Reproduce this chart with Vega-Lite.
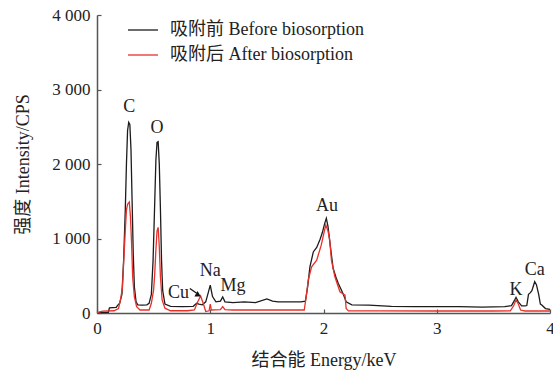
{
  "$schema": "https://vega.github.io/schema/vega-lite/v6.json",
  "width": 453,
  "height": 298,
  "autosize": {"type": "none"},
  "padding": {"left": 97, "top": 15, "right": 3, "bottom": 61},
  "background": "white",
  "config": {
    "view": {"stroke": null},
    "font": "Liberation Serif",
    "axis": {
      "grid": false,
      "domainColor": "#555555",
      "domainWidth": 1.5,
      "tickColor": "#555555",
      "tickWidth": 1.2,
      "tickSize": -4,
      "labelFont": "Liberation Serif",
      "labelFontSize": 17,
      "labelColor": "#222222",
      "titleFont": "Liberation Serif, Noto Sans CJK SC",
      "titleFontSize": 18,
      "titleFontWeight": "normal",
      "titleColor": "#222222"
    },
    "legend": {
      "orient": "none",
      "legendX": 30,
      "legendY": -1,
      "labelFont": "Liberation Serif, Noto Sans CJK SC",
      "labelFontSize": 18,
      "labelColor": "#222222",
      "labelLimit": 0,
      "symbolType": "stroke",
      "symbolSize": 900,
      "symbolStrokeWidth": 1.3,
      "labelOffset": 11,
      "rowPadding": 0,
      "padding": 0,
      "title": null
    }
  },
  "datasets": {
    "spec": [
      {"s":"吸附前 Before biosorption","e":0,"i":5},
      {"s":"吸附前 Before biosorption","e":0.1,"i":10},
      {"s":"吸附前 Before biosorption","e":0.11,"i":70},
      {"s":"吸附前 Before biosorption","e":0.17,"i":75},
      {"s":"吸附前 Before biosorption","e":0.18,"i":100},
      {"s":"吸附前 Before biosorption","e":0.2,"i":130},
      {"s":"吸附前 Before biosorption","e":0.22,"i":250},
      {"s":"吸附前 Before biosorption","e":0.235,"i":700},
      {"s":"吸附前 Before biosorption","e":0.25,"i":1400},
      {"s":"吸附前 Before biosorption","e":0.26,"i":2000},
      {"s":"吸附前 Before biosorption","e":0.27,"i":2450},
      {"s":"吸附前 Before biosorption","e":0.28,"i":2560},
      {"s":"吸附前 Before biosorption","e":0.29,"i":2530},
      {"s":"吸附前 Before biosorption","e":0.3,"i":2200},
      {"s":"吸附前 Before biosorption","e":0.31,"i":1500},
      {"s":"吸附前 Before biosorption","e":0.32,"i":800},
      {"s":"吸附前 Before biosorption","e":0.33,"i":350},
      {"s":"吸附前 Before biosorption","e":0.345,"i":150},
      {"s":"吸附前 Before biosorption","e":0.36,"i":110},
      {"s":"吸附前 Before biosorption","e":0.4,"i":105},
      {"s":"吸附前 Before biosorption","e":0.44,"i":110},
      {"s":"吸附前 Before biosorption","e":0.46,"i":130},
      {"s":"吸附前 Before biosorption","e":0.48,"i":250},
      {"s":"吸附前 Before biosorption","e":0.495,"i":700},
      {"s":"吸附前 Before biosorption","e":0.51,"i":1500},
      {"s":"吸附前 Before biosorption","e":0.52,"i":2050},
      {"s":"吸附前 Before biosorption","e":0.53,"i":2290},
      {"s":"吸附前 Before biosorption","e":0.54,"i":2300},
      {"s":"吸附前 Before biosorption","e":0.55,"i":2000},
      {"s":"吸附前 Before biosorption","e":0.56,"i":1400},
      {"s":"吸附前 Before biosorption","e":0.57,"i":700},
      {"s":"吸附前 Before biosorption","e":0.58,"i":300},
      {"s":"吸附前 Before biosorption","e":0.6,"i":120},
      {"s":"吸附前 Before biosorption","e":0.65,"i":90},
      {"s":"吸附前 Before biosorption","e":0.75,"i":85},
      {"s":"吸附前 Before biosorption","e":0.85,"i":90},
      {"s":"吸附前 Before biosorption","e":0.88,"i":130},
      {"s":"吸附前 Before biosorption","e":0.9,"i":120},
      {"s":"吸附前 Before biosorption","e":0.93,"i":110},
      {"s":"吸附前 Before biosorption","e":0.96,"i":150},
      {"s":"吸附前 Before biosorption","e":0.98,"i":260},
      {"s":"吸附前 Before biosorption","e":1.0,"i":375},
      {"s":"吸附前 Before biosorption","e":1.02,"i":220},
      {"s":"吸附前 Before biosorption","e":1.05,"i":150},
      {"s":"吸附前 Before biosorption","e":1.09,"i":160},
      {"s":"吸附前 Before biosorption","e":1.11,"i":215},
      {"s":"吸附前 Before biosorption","e":1.13,"i":150},
      {"s":"吸附前 Before biosorption","e":1.2,"i":140},
      {"s":"吸附前 Before biosorption","e":1.3,"i":150},
      {"s":"吸附前 Before biosorption","e":1.4,"i":140},
      {"s":"吸附前 Before biosorption","e":1.5,"i":190},
      {"s":"吸附前 Before biosorption","e":1.55,"i":160},
      {"s":"吸附前 Before biosorption","e":1.6,"i":150},
      {"s":"吸附前 Before biosorption","e":1.7,"i":150},
      {"s":"吸附前 Before biosorption","e":1.8,"i":150},
      {"s":"吸附前 Before biosorption","e":1.84,"i":160},
      {"s":"吸附前 Before biosorption","e":1.86,"i":350},
      {"s":"吸附前 Before biosorption","e":1.88,"i":620},
      {"s":"吸附前 Before biosorption","e":1.91,"i":820},
      {"s":"吸附前 Before biosorption","e":1.94,"i":880},
      {"s":"吸附前 Before biosorption","e":1.97,"i":990},
      {"s":"吸附前 Before biosorption","e":1.99,"i":1080},
      {"s":"吸附前 Before biosorption","e":2.01,"i":1200},
      {"s":"吸附前 Before biosorption","e":2.025,"i":1270},
      {"s":"吸附前 Before biosorption","e":2.04,"i":1160},
      {"s":"吸附前 Before biosorption","e":2.06,"i":900},
      {"s":"吸附前 Before biosorption","e":2.085,"i":600},
      {"s":"吸附前 Before biosorption","e":2.11,"i":480},
      {"s":"吸附前 Before biosorption","e":2.13,"i":400},
      {"s":"吸附前 Before biosorption","e":2.17,"i":270},
      {"s":"吸附前 Before biosorption","e":2.2,"i":150},
      {"s":"吸附前 Before biosorption","e":2.25,"i":110},
      {"s":"吸附前 Before biosorption","e":2.4,"i":105},
      {"s":"吸附前 Before biosorption","e":2.6,"i":90},
      {"s":"吸附前 Before biosorption","e":2.8,"i":85},
      {"s":"吸附前 Before biosorption","e":3.0,"i":85},
      {"s":"吸附前 Before biosorption","e":3.2,"i":85},
      {"s":"吸附前 Before biosorption","e":3.4,"i":80},
      {"s":"吸附前 Before biosorption","e":3.6,"i":85},
      {"s":"吸附前 Before biosorption","e":3.66,"i":100},
      {"s":"吸附前 Before biosorption","e":3.69,"i":180},
      {"s":"吸附前 Before biosorption","e":3.7,"i":210},
      {"s":"吸附前 Before biosorption","e":3.72,"i":150},
      {"s":"吸附前 Before biosorption","e":3.75,"i":95},
      {"s":"吸附前 Before biosorption","e":3.78,"i":95},
      {"s":"吸附前 Before biosorption","e":3.795,"i":100},
      {"s":"吸附前 Before biosorption","e":3.81,"i":250},
      {"s":"吸附前 Before biosorption","e":3.825,"i":270},
      {"s":"吸附前 Before biosorption","e":3.84,"i":300},
      {"s":"吸附前 Before biosorption","e":3.865,"i":420},
      {"s":"吸附前 Before biosorption","e":3.88,"i":380},
      {"s":"吸附前 Before biosorption","e":3.9,"i":250},
      {"s":"吸附前 Before biosorption","e":3.915,"i":120},
      {"s":"吸附前 Before biosorption","e":3.93,"i":105},
      {"s":"吸附前 Before biosorption","e":3.96,"i":60},
      {"s":"吸附前 Before biosorption","e":4.0,"i":50},
      {"s":"吸附后 After biosorption","e":0,"i":5},
      {"s":"吸附后 After biosorption","e":0.05,"i":25},
      {"s":"吸附后 After biosorption","e":0.15,"i":30},
      {"s":"吸附后 After biosorption","e":0.19,"i":60},
      {"s":"吸附后 After biosorption","e":0.21,"i":200},
      {"s":"吸附后 After biosorption","e":0.225,"i":350},
      {"s":"吸附后 After biosorption","e":0.235,"i":670},
      {"s":"吸附后 After biosorption","e":0.25,"i":1110},
      {"s":"吸附后 After biosorption","e":0.26,"i":1380},
      {"s":"吸附后 After biosorption","e":0.27,"i":1460},
      {"s":"吸附后 After biosorption","e":0.285,"i":1490},
      {"s":"吸附后 After biosorption","e":0.295,"i":1300},
      {"s":"吸附后 After biosorption","e":0.305,"i":950},
      {"s":"吸附后 After biosorption","e":0.315,"i":480},
      {"s":"吸附后 After biosorption","e":0.33,"i":215},
      {"s":"吸附后 After biosorption","e":0.35,"i":85},
      {"s":"吸附后 After biosorption","e":0.38,"i":40},
      {"s":"吸附后 After biosorption","e":0.46,"i":40},
      {"s":"吸附后 After biosorption","e":0.48,"i":130},
      {"s":"吸附后 After biosorption","e":0.5,"i":310},
      {"s":"吸附后 After biosorption","e":0.51,"i":535},
      {"s":"吸附后 After biosorption","e":0.52,"i":845},
      {"s":"吸附后 After biosorption","e":0.53,"i":1100},
      {"s":"吸附后 After biosorption","e":0.54,"i":1150},
      {"s":"吸附后 After biosorption","e":0.55,"i":890},
      {"s":"吸附后 After biosorption","e":0.56,"i":490},
      {"s":"吸附后 After biosorption","e":0.575,"i":175},
      {"s":"吸附后 After biosorption","e":0.6,"i":65},
      {"s":"吸附后 After biosorption","e":0.65,"i":30},
      {"s":"吸附后 After biosorption","e":0.8,"i":30},
      {"s":"吸附后 After biosorption","e":0.86,"i":40},
      {"s":"吸附后 After biosorption","e":0.89,"i":150},
      {"s":"吸附后 After biosorption","e":0.915,"i":228},
      {"s":"吸附后 After biosorption","e":0.94,"i":120},
      {"s":"吸附后 After biosorption","e":0.96,"i":20},
      {"s":"吸附后 After biosorption","e":0.99,"i":30},
      {"s":"吸附后 After biosorption","e":1.0,"i":120},
      {"s":"吸附后 After biosorption","e":1.01,"i":40},
      {"s":"吸附后 After biosorption","e":1.09,"i":45},
      {"s":"吸附后 After biosorption","e":1.11,"i":85},
      {"s":"吸附后 After biosorption","e":1.13,"i":45},
      {"s":"吸附后 After biosorption","e":1.2,"i":40},
      {"s":"吸附后 After biosorption","e":1.5,"i":40},
      {"s":"吸附后 After biosorption","e":1.83,"i":40},
      {"s":"吸附后 After biosorption","e":1.85,"i":250},
      {"s":"吸附后 After biosorption","e":1.865,"i":440},
      {"s":"吸附后 After biosorption","e":1.895,"i":620},
      {"s":"吸附后 After biosorption","e":1.94,"i":710},
      {"s":"吸附后 After biosorption","e":1.98,"i":910},
      {"s":"吸附后 After biosorption","e":2.0,"i":1050},
      {"s":"吸附后 After biosorption","e":2.02,"i":1180},
      {"s":"吸附后 After biosorption","e":2.04,"i":1100},
      {"s":"吸附后 After biosorption","e":2.055,"i":980},
      {"s":"吸附后 After biosorption","e":2.07,"i":710},
      {"s":"吸附后 After biosorption","e":2.1,"i":490},
      {"s":"吸附后 After biosorption","e":2.145,"i":285},
      {"s":"吸附后 After biosorption","e":2.19,"i":240},
      {"s":"吸附后 After biosorption","e":2.2,"i":60},
      {"s":"吸附后 After biosorption","e":2.22,"i":28},
      {"s":"吸附后 After biosorption","e":2.5,"i":28},
      {"s":"吸附后 After biosorption","e":3.0,"i":27},
      {"s":"吸附后 After biosorption","e":3.5,"i":27},
      {"s":"吸附后 After biosorption","e":3.65,"i":30},
      {"s":"吸附后 After biosorption","e":3.68,"i":100},
      {"s":"吸附后 After biosorption","e":3.7,"i":175},
      {"s":"吸附后 After biosorption","e":3.72,"i":120},
      {"s":"吸附后 After biosorption","e":3.74,"i":40},
      {"s":"吸附后 After biosorption","e":3.78,"i":27},
      {"s":"吸附后 After biosorption","e":4.0,"i":27}
    ],
    "labels": [
      {"t":"C","e":0.285,"i":2760},
      {"t":"O","e":0.53,"i":2480},
      {"t":"Cu","e":0.72,"i":270},
      {"t":"Na","e":1.0,"i":565},
      {"t":"Mg","e":1.2,"i":362},
      {"t":"Au","e":2.03,"i":1436},
      {"t":"K","e":3.7,"i":310},
      {"t":"Ca","e":3.865,"i":577}
    ],
    "arrow": [
      {"e":0.82,"i":330,"e2":0.88,"i2":265}
    ],
    "arrowhead": [
      {"e":0.895,"i":240}
    ]
  },
  "layer": [
    {
      "data": {"name": "spec"},
      "mark": {"type": "line", "strokeWidth": 1.3},
      "encoding": {
        "x": {"field": "e", "type": "quantitative", "scale": {"domain": [0, 4], "nice": false},
              "axis": {"values": [0, 1, 2, 3, 4], "format": "d", "labelPadding": 11, "title": "结合能 Energy/keV", "titlePadding": 15, "labelFlush": false}},
        "y": {"field": "i", "type": "quantitative", "scale": {"domain": [0, 4000], "nice": false},
              "axis": {"values": [0, 1000, 2000, 3000, 4000], "labelExpr": "replace(format(datum.value, ','), ',', ' ')", "labelPadding": 11, "title": "强度 Intensity/CPS", "titlePadding": 19, "labelFlush": false}},
        "color": {"field": "s", "type": "nominal",
                  "scale": {"domain": ["吸附前 Before biosorption", "吸附后 After biosorption"], "range": ["#1c1c1c", "#e8302a"]},
                  "legend": {"title": null}},
        "order": {"field": "e", "type": "quantitative"}
      }
    },
    {
      "data": {"name": "labels"},
      "mark": {"type": "text", "font": "Liberation Serif", "fontSize": 18, "color": "#222222", "align": "center", "baseline": "middle"},
      "encoding": {
        "x": {"field": "e", "type": "quantitative"},
        "y": {"field": "i", "type": "quantitative"},
        "text": {"field": "t"}
      }
    },
    {
      "data": {"name": "arrow"},
      "mark": {"type": "rule", "color": "#111111", "strokeWidth": 1.2},
      "encoding": {
        "x": {"field": "e", "type": "quantitative"},
        "y": {"field": "i", "type": "quantitative"},
        "x2": {"field": "e2"},
        "y2": {"field": "i2"}
      }
    },
    {
      "data": {"name": "arrowhead"},
      "mark": {"type": "point", "shape": "triangle-right", "filled": true, "color": "#111111", "size": 40, "angle": 30, "opacity": 1},
      "encoding": {
        "x": {"field": "e", "type": "quantitative"},
        "y": {"field": "i", "type": "quantitative"}
      }
    }
  ]
}
